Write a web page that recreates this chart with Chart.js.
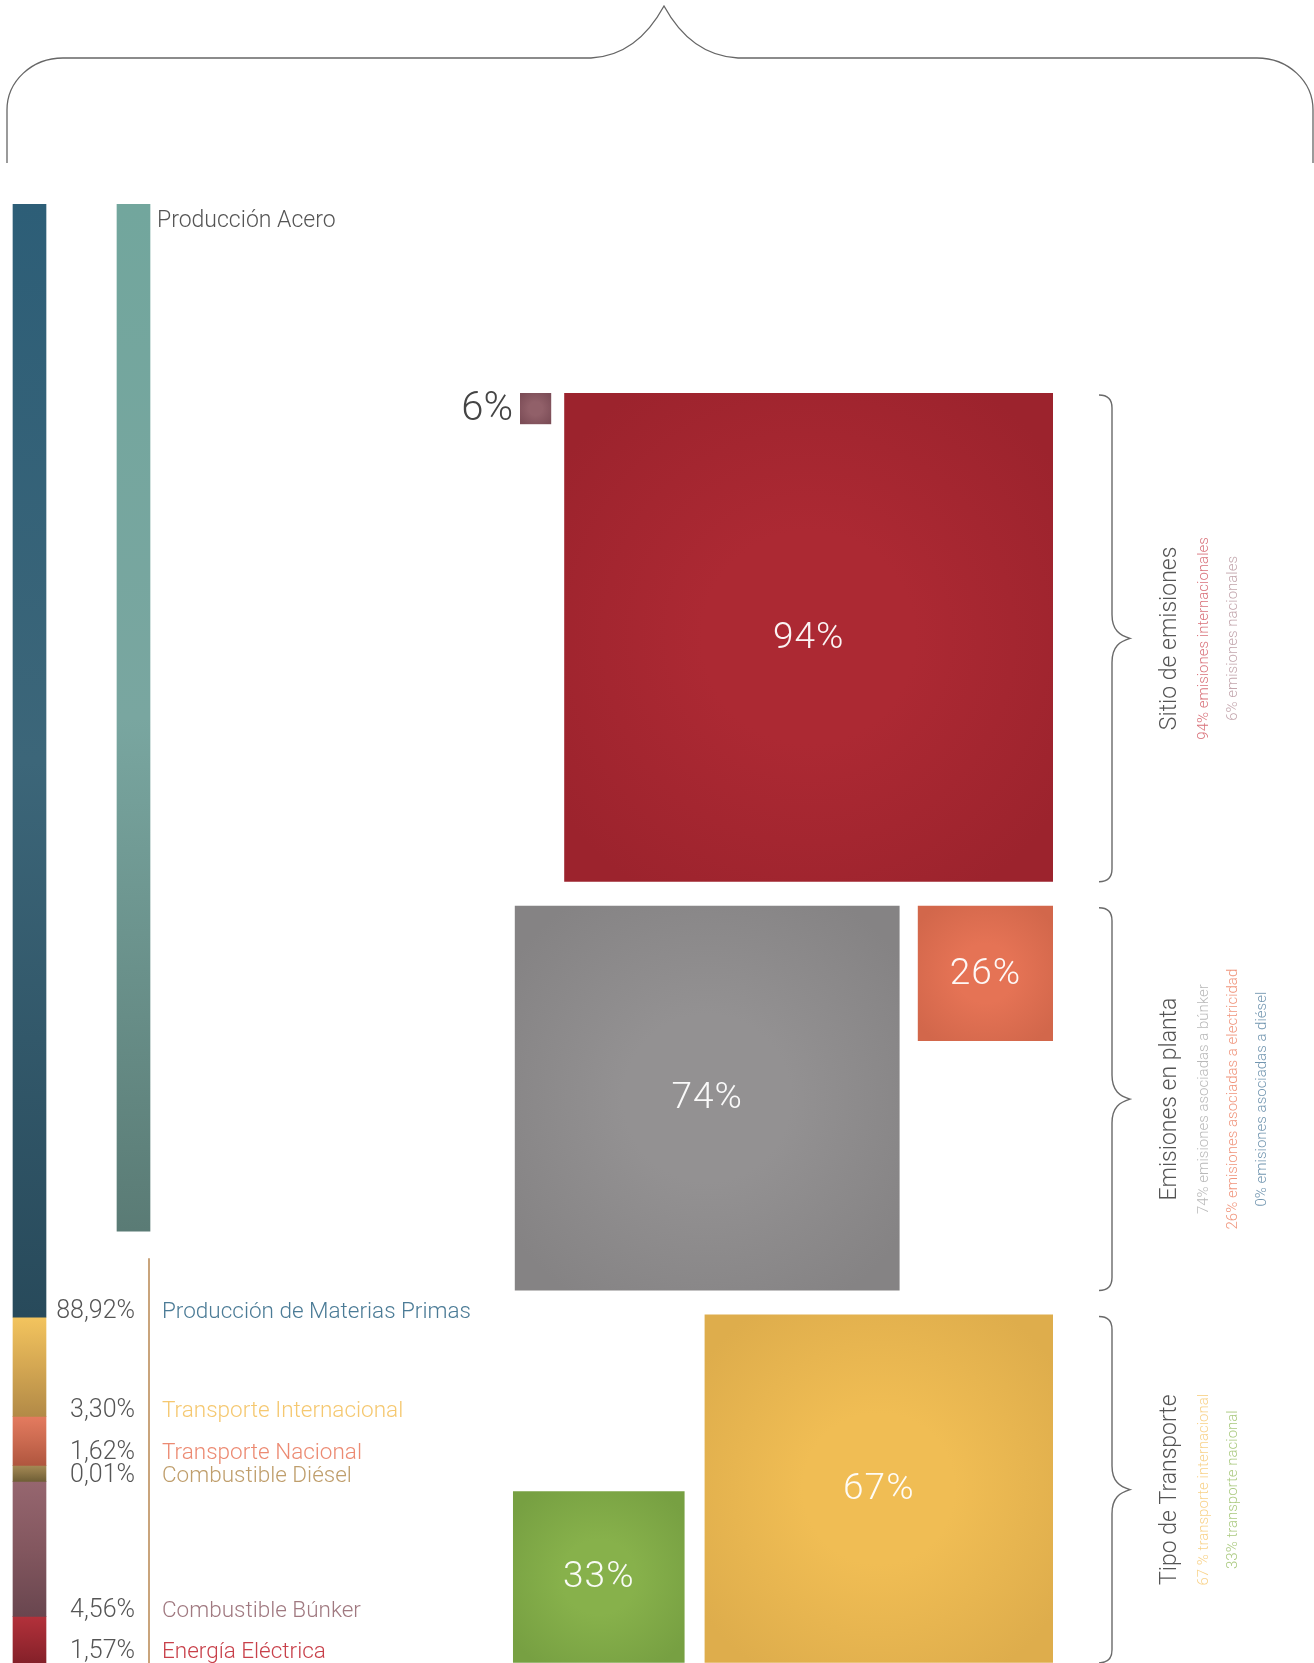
<!DOCTYPE html>
<html lang="es">
<head>
<meta charset="utf-8">
<title>Huella de carbono – Producción de acero</title>
<script src="https://cdn.jsdelivr.net/npm/chart.js@4.4.1/dist/chart.umd.min.js"></script>
<style>
  html, body { margin: 0; padding: 0; background: #fff; }
  #lienzo { position: relative; width: 1314px; height: 1663px; overflow: hidden; }
  #lienzo canvas { position: absolute; left: 0; top: 0; }
</style>
</head>
<body>
<div id="lienzo">
  <canvas id="barras" width="1314" height="1663"></canvas>
  <canvas id="cuadros" width="1314" height="1663"></canvas>
</div>
<script>
// ---- Datos: barra de composición (izquierda) ----
const segmentos = ['Producción de Materias Primas', 'Transporte Internacional', 'Transporte Nacional',
  'Combustible Diésel', 'Combustible Búnker', 'Energía Eléctrica'];
const porcentajes = ['88,92%', '3,30%', '1,62%', '0,01%', '4,56%', '1,57%'];
// alto dibujado de cada tramo (la barra original no es proporcional al %)
const altoTramo = [76.3, 6.8, 3.35, 1.1, 9.25, 3.2];
const etiquetaAcero = 'Producción Acero';
const altoAcero = 70.4;

// ---- Datos: cuadros (lado proporcional al %) ----
const grupos = ['Sitio de emisiones', 'Emisiones en planta', 'Tipo de Transporte'];
const notasSitio = ['94% emisiones internacionales', '6% emisiones nacionales'];
const notasPlanta = ['74% emisiones asociadas a búnker', '26% emisiones asociadas a electricidad', '0% emisiones asociadas a diésel'];
const notasTransporte = ['67 % transporte internacional', '33% transporte nacional'];
// valores de derecha a izquierda dentro de cada grupo
const cuadrosSitio = [94, 6];
const cuadrosPlanta = [26, 74];
const cuadrosTransporte = [67, 33];

// ---- Estilos ----
const FUENTE = 'Roboto, "Helvetica Neue", Arial, sans-serif';
const coloresTramo = [
  ['#2d5e77', '#3c6679', '#284a5b'],
  ['#f3c45e', '#d4a752', '#b28a47'],
  ['#e47b5f', '#cb6a50', '#b0563f'],
  ['#a58a55', '#8c7546', '#6f5f36'],
  ['#96666f', '#83575f', '#69464f'],
  ['#b3313b', '#9c2932', '#842029']
];
const colorAcero = ['#72a69d', '#79a6a0', '#5a7b75'];
const colorNombre = ['#4b7b96', '#f5c870', '#ec8a72', '#bf9e6c', '#a07980', '#c8404a'];
const colorCuadros = [
  [['#ac2933', '#9c232d'], ['#916069', '#7c4d57']],
  [['#e57355', '#d2674b'], ['#939192', '#858384']],
  [['#f0bd54', '#dead4c'], ['#87b14b', '#77a042']]
];
const colorNotas = [
  ['#d9737b', '#c3a6ad'],
  ['#b9b9b9', '#f0957c', '#7296b0'],
  ['#f8d28a', '#abca80']
];

// ================= Barra de composición =================
const acumulado = [0];
altoTramo.forEach((a, i) => acumulado.push(acumulado[i] + a));

function gradiente(chart, desde, hasta, stops) {
  const y = chart.scales.y;
  const y0 = y ? y.getPixelForValue(desde) : NaN;
  const y1 = y ? y.getPixelForValue(hasta) : NaN;
  if (!Number.isFinite(y0) || !Number.isFinite(y1)) return stops[1];
  const g = chart.ctx.createLinearGradient(0, y0, 0, y1);
  g.addColorStop(0, stops[0]);
  g.addColorStop(0.5, stops[1]);
  g.addColorStop(1, stops[2]);
  return g;
}

const datasetsBarra = segmentos.map((s, i) => ({
  label: s,
  data: [{ x: 0, y: altoTramo[i] }],
  backgroundColor: c => gradiente(c.chart, acumulado[i], acumulado[i + 1], coloresTramo[i]),
  barThickness: 33,
  borderWidth: 0
}));
datasetsBarra.push({
  label: etiquetaAcero,
  data: [{ x: 1, y: altoAcero }],
  backgroundColor: c => gradiente(c.chart, 0, altoAcero, colorAcero),
  barThickness: 33,
  borderWidth: 0
});

const textosBarra = {
  id: 'textosBarra',
  afterDatasetsDraw(chart) {
    const { ctx } = chart;
    const y = chart.scales.y;
    const barra = chart.getDatasetMeta(0).data[0];
    const borde = barra.x + barra.width / 2;

    // llave superior
    ctx.save();
    ctx.strokeStyle = '#666';
    ctx.lineWidth = 1.3;
    ctx.beginPath();
    ctx.moveTo(7, 163);
    ctx.lineTo(7, 110);
    ctx.bezierCurveTo(7, 81, 32, 58, 63, 58);
    ctx.lineTo(591, 58);
    ctx.bezierCurveTo(630, 56, 652, 28, 664, 6);
    ctx.bezierCurveTo(676, 28, 698, 56, 738, 58);
    ctx.lineTo(1257, 58);
    ctx.bezierCurveTo(1288, 58, 1313, 81, 1313, 110);
    ctx.lineTo(1313, 163);
    ctx.stroke();
    ctx.restore();

    // etiquetas de los tramos
    const base = acumulado.slice(1).map(v => Math.min(y.getPixelForValue(v) + 1, chart.height - 5));
    for (let i = base.length - 2; i >= 0; i--) base[i] = Math.min(base[i], base[i + 1] - 23);
    ctx.save();
    ctx.textBaseline = 'alphabetic';
    segmentos.forEach((s, i) => {
      ctx.font = '300 25px ' + FUENTE;
      ctx.textAlign = 'right';
      ctx.fillStyle = '#555';
      ctx.fillText(porcentajes[i], borde + 89, base[i]);
      ctx.font = '300 22.5px ' + FUENTE;
      ctx.textAlign = 'left';
      ctx.fillStyle = colorNombre[i];
      ctx.fillText(s, borde + 116, base[i]);
    });

    // barra de acero: etiqueta y línea guía
    const acero = chart.getDatasetMeta(segmentos.length).data[0];
    const aceroDer = acero.x + acero.width / 2;
    ctx.font = '300 23px ' + FUENTE;
    ctx.fillStyle = '#555';
    ctx.textAlign = 'left';
    ctx.fillText(etiquetaAcero, aceroDer + 7, y.getPixelForValue(0) + 23);
    ctx.strokeStyle = '#c9a47c';
    ctx.lineWidth = 2;
    ctx.beginPath();
    ctx.moveTo(aceroDer - 1, y.getPixelForValue(altoAcero) + 27);
    ctx.lineTo(aceroDer - 1, chart.height);
    ctx.stroke();
    ctx.restore();
  }
};

new Chart(document.getElementById('barras'), {
  type: 'bar',
  data: { datasets: datasetsBarra },
  options: {
    responsive: false,
    animation: false,
    events: [],
    layout: { padding: { top: 204, left: 0, right: 0, bottom: 0 } },
    plugins: { legend: { display: false }, tooltip: { enabled: false } },
    scales: {
      x: { type: 'linear', display: false, offset: false, stacked: true, min: -29.5 / 104, max: (1314 - 29.5) / 104 },
      y: { type: 'linear', display: false, stacked: true, reverse: true, min: 0, max: 100 }
    }
  },
  plugins: [textosBarra]
});

// ================= Cuadros =================
const PX = 5.2;            // píxeles por punto porcentual
const BORDE_DER = 1053;    // borde derecho común de los cuadros
const TOPE = 393;          // borde superior del primer grupo
const separacionH = [2.5, 3.5, 3.85];
const separacionV = 4.6;
const alineacion = ['top', 'top', 'bottom'];
const valoresGrupo = [cuadrosSitio, cuadrosPlanta, cuadrosTransporte];
const notasGrupo = [notasSitio, notasPlanta, notasTransporte];

const puntos = [];
const extension = [];
let arriba = 0;
valoresGrupo.forEach((vals, g) => {
  const alto = Math.max(...vals);
  let derecha = 0;
  vals.forEach((v, i) => {
    const cy = alineacion[g] === 'top' ? arriba + v / 2 : arriba + alto - v / 2;
    puntos.push({ x: derecha - v / 2, y: cy, v, g, i });
    derecha -= v + separacionH[g];
  });
  extension.push([arriba, arriba + alto]);
  arriba += alto + separacionV;
});

function ladoPx(chart, v) {
  const x = chart.scales.x;
  if (!x) return NaN;
  return x.getPixelForValue(v) - x.getPixelForValue(0);
}
function radioCuadro(c) {
  if (!c.raw) return 0;
  const l = ladoPx(c.chart, c.raw.v);
  return Number.isFinite(l) ? l / Math.SQRT2 : 0;
}
function colorCuadro(c) {
  if (!c.raw) return '#999';
  const { chart, raw } = c;
  const par = colorCuadros[raw.g][raw.i];
  if (!chart.scales.x || !chart.scales.y) return par[0];
  const cx = chart.scales.x.getPixelForValue(raw.x);
  const cy = chart.scales.y.getPixelForValue(raw.y);
  const lado = ladoPx(chart, raw.v);
  if (![cx, cy, lado].every(Number.isFinite) || lado <= 0) return par[0];
  const g = chart.ctx.createRadialGradient(cx, cy, 0, cx, cy, lado * 0.62);
  g.addColorStop(0, par[0]);
  g.addColorStop(0.35, par[0]);
  g.addColorStop(1, par[1]);
  return g;
}

const textosCuadros = {
  id: 'textosCuadros',
  afterDatasetsDraw(chart) {
    const { ctx } = chart;
    const xs = chart.scales.x, ys = chart.scales.y;
    ctx.save();
    // porcentajes de cada cuadro
    chart.data.datasets.forEach((ds, d) => {
      chart.getDatasetMeta(d).data.forEach((el, k) => {
        const p = ds.data[k];
        const lado = ladoPx(chart, p.v);
        ctx.textBaseline = 'middle';
        if (lado > 80) {
          ctx.font = '300 37px ' + FUENTE;
          ctx.letterSpacing = '1px';
          ctx.fillStyle = 'rgba(255,255,255,0.95)';
          ctx.textAlign = 'center';
          ctx.fillText(p.v + '%', el.x, el.y + 1);
        } else {
          ctx.font = '300 40px ' + FUENTE;
          ctx.letterSpacing = '0px';
          ctx.fillStyle = '#444';
          ctx.textAlign = 'right';
          ctx.fillText(p.v + '%', el.x - lado / 2 - 7, el.y + 1);
        }
      });
    });
    ctx.letterSpacing = '0px';

    // llaves y títulos de cada grupo
    const xr = xs.getPixelForValue(0);
    extension.forEach(([a, b], g) => {
      const top = ys.getPixelForValue(a) + 2;
      const bot = ys.getPixelForValue(b);
      const mid = (top + bot) / 2;
      const xh = xr + 46, xl = xr + 59, xt = xr + 77;
      ctx.strokeStyle = '#6a6a6a';
      ctx.lineWidth = 1.4;
      ctx.beginPath();
      ctx.moveTo(xh, top);
      ctx.bezierCurveTo(xl - 4, top, xl, top + 5, xl, top + 13);
      ctx.lineTo(xl, mid - 24);
      ctx.bezierCurveTo(xl, mid - 8, xt - 10, mid - 3, xt, mid);
      ctx.bezierCurveTo(xt - 10, mid + 3, xl, mid + 8, xl, mid + 24);
      ctx.lineTo(xl, bot - 13);
      ctx.bezierCurveTo(xl, bot - 5, xl - 4, bot, xh, bot);
      ctx.stroke();

      ctx.save();
      ctx.translate(xr + 117, mid);
      ctx.rotate(-Math.PI / 2);
      ctx.textAlign = 'center';
      ctx.textBaseline = 'middle';
      ctx.font = '300 23px ' + FUENTE;
      ctx.fillStyle = '#555';
      ctx.fillText(grupos[g], 0, 0);
      ctx.font = '300 15px ' + FUENTE;
      notasGrupo[g].forEach((n, j) => {
        ctx.fillStyle = colorNotas[g][j];
        ctx.fillText(n, 0, 34 + j * 29);
      });
      ctx.restore();
    });
    ctx.restore();
  }
};

new Chart(document.getElementById('cuadros'), {
  type: 'scatter',
  data: {
    datasets: grupos.map((nombre, g) => ({
      label: nombre,
      data: puntos.filter(p => p.g === g)
    }))
  },
  options: {
    responsive: false,
    animation: false,
    events: [],
    layout: { padding: 0 },
    plugins: { legend: { display: false }, tooltip: { enabled: false } },
    elements: {
      point: {
        pointStyle: 'rect',
        radius: radioCuadro,
        hoverRadius: radioCuadro,
        borderWidth: 0,
        backgroundColor: colorCuadro,
        hoverBackgroundColor: colorCuadro
      }
    },
    scales: {
      x: { type: 'linear', display: false, min: -BORDE_DER / PX, max: (1314 - BORDE_DER) / PX },
      y: { type: 'linear', display: false, reverse: true, min: -TOPE / PX, max: (1663 - TOPE) / PX }
    }
  },
  plugins: [textosCuadros]
});
</script>
</body>
</html>
